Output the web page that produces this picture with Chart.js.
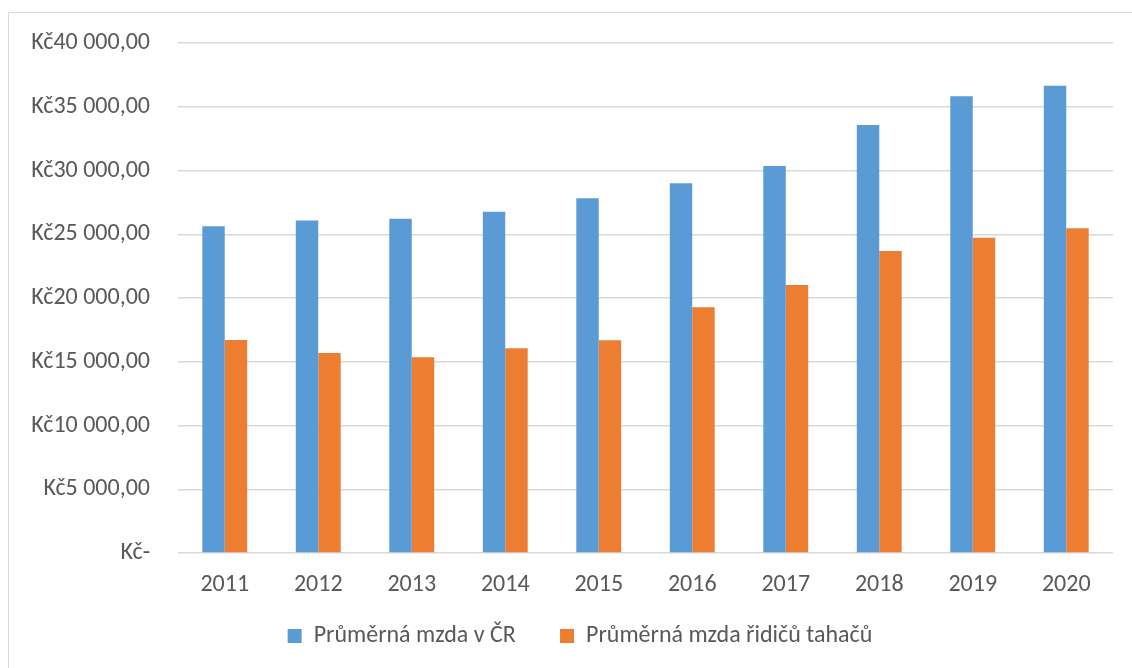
<!DOCTYPE html>
<html>
<head>
<meta charset="utf-8">
<script src="https://cdn.jsdelivr.net/npm/chart.js@4"></script>
<style>
  html, body { margin: 0; padding: 0; background: #fff; overflow: hidden; }
  #wrap { position: relative; width: 1132px; height: 668px; overflow: hidden; }
  #frame { position: absolute; left: 8px; top: 12px; right: 0; bottom: 0;
           border-left: 1px solid #d9d9d9; border-top: 1px solid #d9d9d9; }
  canvas { position: absolute; left: 0; top: 0; }
</style>
</head>
<body>
<div id="wrap">
  <div id="frame"></div>
  <canvas id="wageChart" width="1160" height="668"></canvas>
</div>
<script>
// data
const years = ["2011", "2012", "2013", "2014", "2015", "2016", "2017", "2018", "2019", "2020"];
const avgWageCR = [25630, 26070, 26210, 26770, 27830, 29000, 30360, 33560, 35830, 36640];
const avgWageDrivers = [16700, 15690, 15350, 16050, 16680, 19270, 21020, 23690, 24730, 25470];
const yTickLabels = ["Kč-", "Kč5 000,00", "Kč10 000,00", "Kč15 000,00", "Kč20 000,00",
  "Kč25 000,00", "Kč30 000,00", "Kč35 000,00", "Kč40 000,00"];
const seriesNames = ["Průměrná mzda v ČR", "Průměrná mzda řidičů tahačů"];

const textColor = "#595959";
const gridColor = "#d9d9d9";
const fontFamily = "Carlito, 'Noto Sans', sans-serif";

const ctx = document.getElementById("wageChart").getContext("2d");
new Chart(ctx, {
  type: "bar",
  data: {
    labels: years,
    datasets: [
      { label: seriesNames[0], data: avgWageCR, backgroundColor: "#5b9bd5" },
      { label: seriesNames[1], data: avgWageDrivers, backgroundColor: "#ed7d31" }
    ]
  },
  options: {
    responsive: false,
    animation: false,
    layout: { padding: { top: 43, right: 0, bottom: 10, left: 0 } },
    datasets: { bar: { categoryPercentage: 0.48, barPercentage: 1 } },
    plugins: {
      tooltip: { enabled: false },
      legend: {
        position: "bottom",
        labels: {
          boxWidth: 14,
          boxHeight: 14,
          padding: 28,
          color: textColor,
          font: { family: fontFamily, size: 24 },
          // a little extra space after the first entry, like Excel
          generateLabels: function (chart) {
            const items = Chart.defaults.plugins.legend.labels.generateLabels(chart);
            items.forEach(function (it, i) {
              if (i < items.length - 1) it.text = it.text + "   ";
            });
            return items;
          }
        }
      }
    },
    scales: {
      x: {
        grid: { display: false, drawTicks: false },
        border: { display: false },
        ticks: { color: textColor, padding: 18, font: { family: fontFamily, size: 24 } },
        afterFit: function (s) { s.height = 43; }
      },
      y: {
        min: 0,
        max: 40000,
        grid: { color: gridColor, lineWidth: 1.5, drawTicks: false },
        border: { display: false },
        ticks: {
          stepSize: 5000,
          padding: 28,
          color: textColor,
          font: { family: fontFamily, size: 24 },
          callback: function (value, index) { return yTickLabels[index]; }
        },
        afterFit: function (s) { s.width = 178; }
      },
      // empty spacer on the right so the legend centres like the original
      yRight: {
        position: "right",
        grid: { display: false, drawTicks: false },
        border: { display: false },
        ticks: { display: false },
        afterFit: function (s) { s.width = 47; }
      }
    }
  }
});
</script>
</body>
</html>
